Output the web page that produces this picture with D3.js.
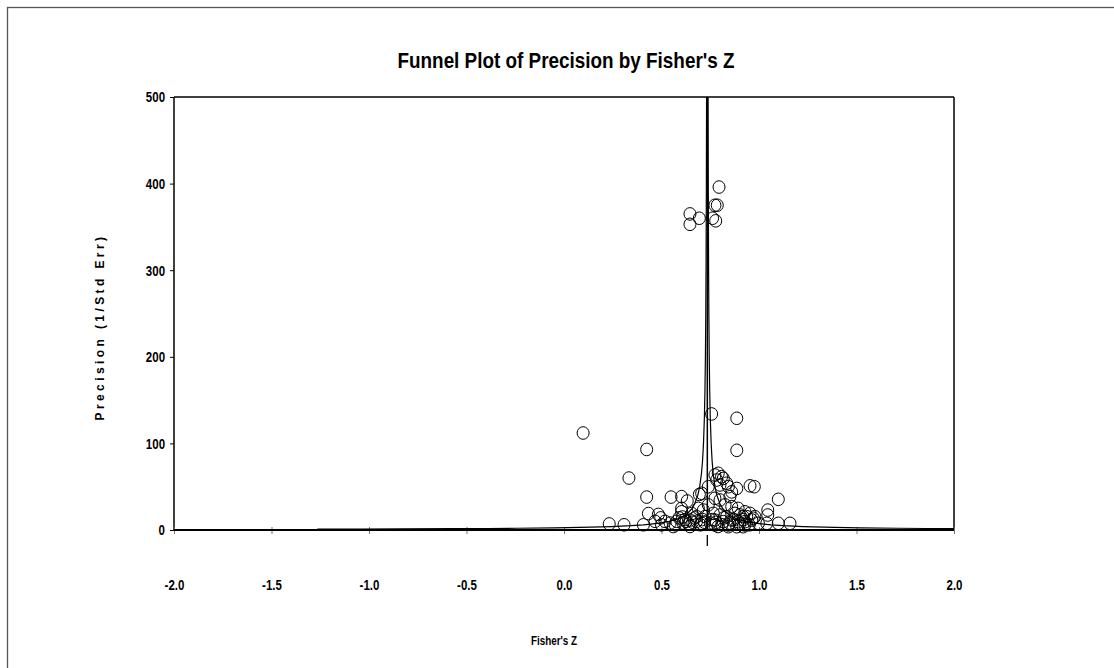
<!DOCTYPE html>
<html><head><meta charset="utf-8">
<script src="https://cdn.jsdelivr.net/npm/d3@7"></script>
<style>
html,body{margin:0;padding:0;background:#fff;}
svg text{font-family:"Liberation Sans",Arial,sans-serif;font-weight:bold;fill:#000;}
</style></head>
<body><svg id="c" width="1114" height="668"></svg>
<script>
// Study effect sizes (Fisher's Z) and precision (1/SE)
const fisherZ = [
 0.795,0.774,0.786,0.646,0.694,0.646,0.762,0.778,
 0.757,0.886,0.886,0.098,0.424,0.333,
 0.424,0.549,0.603,0.632,0.694,0.232,0.308,0.407,0.433,0.484,0.496,0.467,0.518,0.544,0.578,0.603,0.603,0.608,0.655,0.646,0.626,0.561,0.646,0.680,0.689,0.500,
 0.740,0.774,0.791,0.808,0.783,0.817,0.800,0.834,0.843,0.860,0.851,0.886,0.954,0.976,1.099,1.045,1.045,1.040,1.099,1.159,0.774,0.800,0.706,0.740,0.715,0.826,0.860,
 0.893,0.928,0.954,0.979,0.919,0.877,
 0.680,0.723,0.766,0.800,0.834,0.774,0.817,0.860,0.894,0.928,0.928,0.843,0.774,0.706,0.963,0.997,
 0.903,0.937,0.971,0.919,0.886,0.843,
 0.570,0.590,0.610,0.620,0.640,0.660,0.670,0.700,0.710,0.720,0.750,0.760,0.780,0.790,0.810,0.820,0.850,0.870,0.900,0.950,0.920
];
const precision = [
 396,375,375,365,360,353,360,357,
 134,129,92,112,93,60,
 38,38,38.5,33.5,41,7,6,6,19,18,14,10,10,8,10,25,21,15,19,11.5,10,4,4,10,25,6,
 50,63.5,65.5,61.6,57.7,59.6,52,54,50,44,38.5,48,51,50,35.4,23,17.3,7.7,7.7,7.7,36.6,34.6,42.4,29,23,29,27,
 25,21,19.2,15.4,15.4,19.2,
 15.4,15.4,19.2,17.3,15.4,11.5,9.6,11.5,9.6,9.6,5.8,5.8,5.8,7.7,11.5,7.7,
 17.3,15.4,13.5,3.8,3.8,3.8,
 6,14,8,12,7,9,14,6,12,9,8,12,9,4,6,14,8,12,7,6,12
];
const meanZ = 0.735;
const funnelPrecision = [0.98,1.1,1.25,1.5,1.75,2,2.5,3,4,5,6,8,10,13,16,20,25,30,40,50,65,80,100,130,160,200,250,300,400,500];
const xTicks = [-2.0,-1.5,-1.0,-0.5,0.0,0.5,1.0,1.5,2.0];
const yTicks = [0,100,200,300,400,500];

const svg = d3.select("#c");
const L=174, R=954, T=97, B=530;
const x = d3.scaleLinear().domain([-2,2]).range([L,R]);
const y = d3.scaleLinear().domain([0,500]).range([B,T]);

// condense text horizontally (narrow face)
function narrow(sel, f){
  sel.each(function(){
    const w = this.getComputedTextLength();
    d3.select(this).attr("textLength", w*f).attr("lengthAdjust","spacingAndGlyphs");
  });
}

// outer frame
svg.append("rect").attr("x",7.5).attr("y",7.5).attr("width",1130).attr("height",700)
  .attr("fill","none").attr("stroke","#555").attr("stroke-width",1.3);

svg.append("text").attr("x",566).attr("y",68).attr("text-anchor","middle")
  .style("font-size","22px").text("Funnel Plot of Precision by Fisher's Z")
  .attr("textLength",337).attr("lengthAdjust","spacingAndGlyphs");

svg.append("defs").append("clipPath").attr("id","pc").append("rect")
  .attr("x",L).attr("y",T).attr("width",R-L).attr("height",B-T);

// axes box
svg.append("line").attr("x1",L).attr("x2",R).attr("y1",T).attr("y2",T).attr("stroke","#000").attr("stroke-width",1.5);
svg.append("line").attr("x1",R).attr("x2",R).attr("y1",T).attr("y2",B).attr("stroke","#000").attr("stroke-width",1.5);
svg.append("line").attr("x1",L).attr("x2",L).attr("y1",T).attr("y2",B).attr("stroke","#000").attr("stroke-width",1.5);

// y axis
const ya = svg.append("g").attr("transform",`translate(${L},0)`)
  .call(d3.axisLeft(y).tickValues(yTicks).tickSize(4).tickPadding(5).tickFormat(d=>String(d)));
ya.select(".domain").remove();
ya.selectAll("line").attr("stroke","#000");
ya.selectAll("text").style("font-size","14px").attr("dy","0.35em").call(narrow,0.82);

// x ticks (crossing)
const xa = svg.append("g").attr("transform",`translate(0,${B})`)
  .call(d3.axisBottom(x).tickValues(xTicks).tickSize(4).tickPadding(46).tickFormat(d=>d.toFixed(1)));
xa.select(".domain").remove();
xa.selectAll("line").attr("y1",-3).attr("stroke","#777");
xa.selectAll("text").style("font-size","14px").call(narrow,0.82);

// funnel
const g = svg.append("g").attr("clip-path","url(#pc)");
const lineL = d3.line().x(p=>x(meanZ-1.96/p)).y(p=>y(p));
const lineR = d3.line().x(p=>x(meanZ+1.96/p)).y(p=>y(p));
g.append("path").attr("d",lineL(funnelPrecision)).attr("fill","none").attr("stroke","#000").attr("stroke-width",1.2);
g.append("path").attr("d",lineR(funnelPrecision)).attr("fill","none").attr("stroke","#000").attr("stroke-width",1.2);

// bottom axis line
svg.append("line").attr("x1",L).attr("x2",R).attr("y1",B).attr("y2",B).attr("stroke","#000").attr("stroke-width",2);

// mean line
svg.append("line").attr("x1",x(meanZ)).attr("x2",x(meanZ)).attr("y1",T).attr("y2",B).attr("stroke","#000").attr("stroke-width",1.5);
svg.append("line").attr("x1",x(meanZ)).attr("x2",x(meanZ)).attr("y1",B+5).attr("y2",B+16).attr("stroke","#000").attr("stroke-width",1.3);

// points
svg.append("g").selectAll("ellipse").data(fisherZ.map((z,i)=>[z,precision[i]])).join("ellipse")
  .attr("cx",d=>x(d[0])).attr("cy",d=>y(d[1])).attr("rx",6).attr("ry",6.3)
  .attr("fill","none").attr("stroke","#000").attr("stroke-width",1);

// axis titles
svg.append("text").attr("x",554).attr("y",645).attr("text-anchor","middle")
  .style("font-size","12px").text("Fisher's Z").call(narrow,0.82);
svg.append("text").attr("transform","translate(104,328) rotate(-90)").attr("text-anchor","middle")
  .style("font-size","12px").style("letter-spacing","1.5px")
  .attr("textLength",185).attr("lengthAdjust","spacing")
  .text("Precision (1/Std Err)");
</script></body></html>
